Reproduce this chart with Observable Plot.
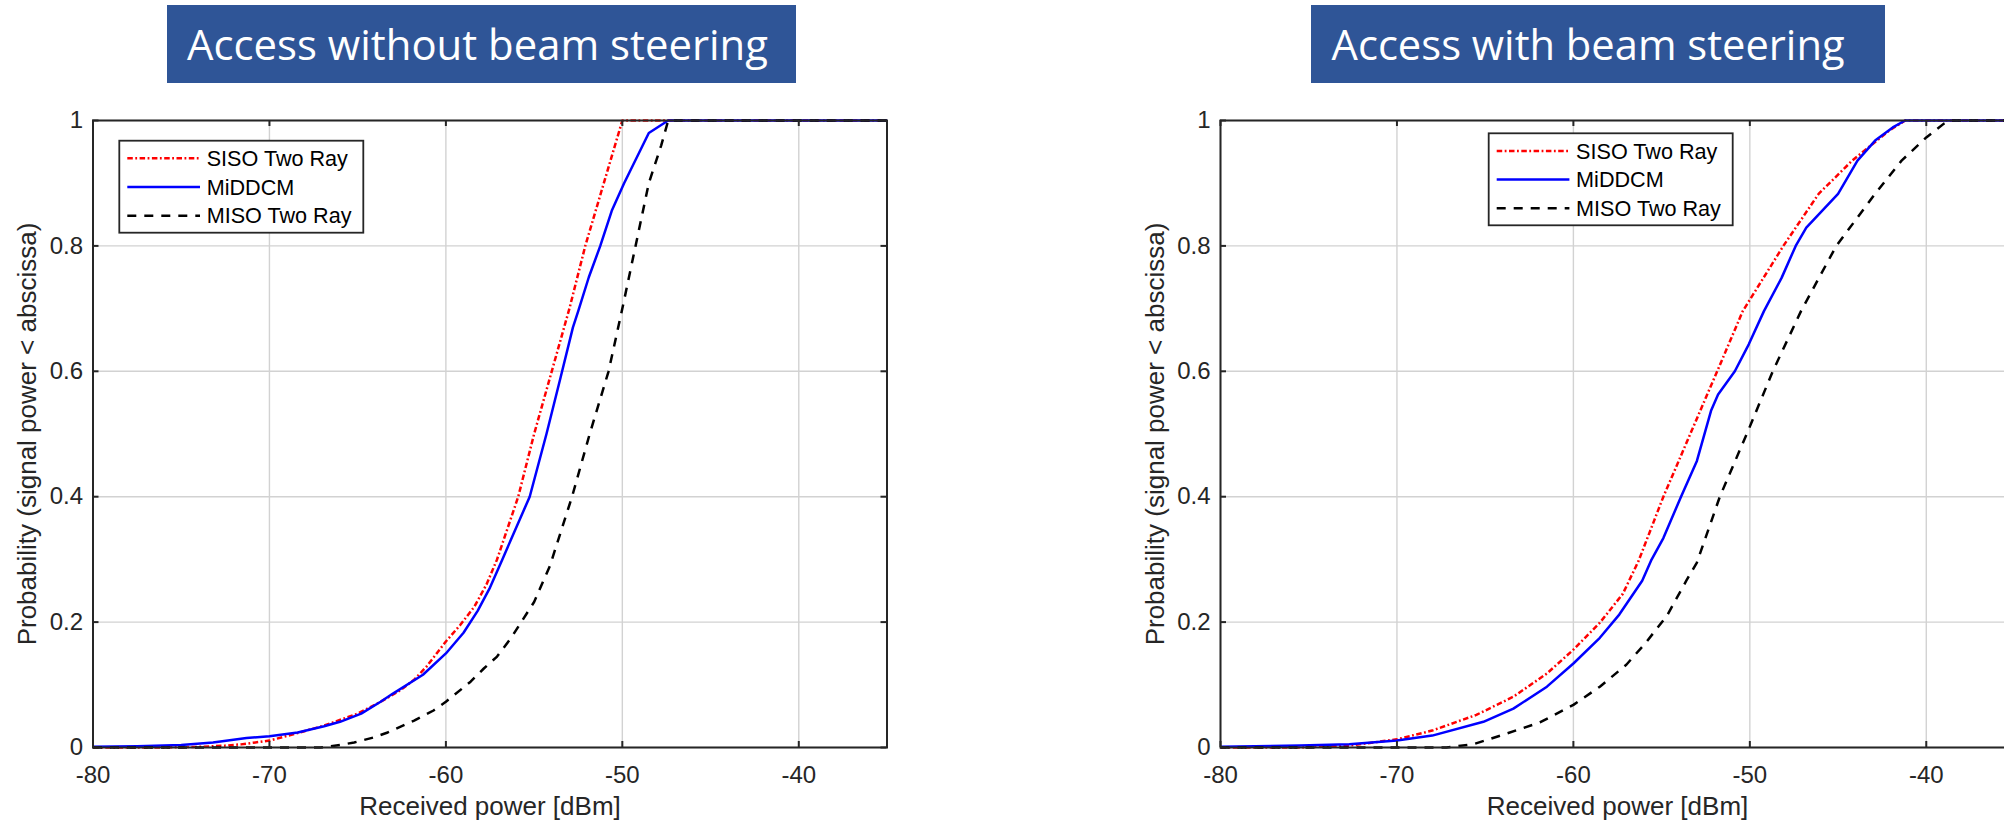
<!DOCTYPE html>
<html><head><meta charset="utf-8">
<script src="https://cdn.jsdelivr.net/npm/d3@7"></script>
<script src="https://cdn.jsdelivr.net/npm/@observablehq/plot@0.6"></script>
<style>
html,body{margin:0;padding:0;background:#fff;overflow:hidden;width:2004px;height:824px;}
.panel{position:absolute;top:0;}
</style></head><body>
<div id="left" class="panel" style="left:0;width:1000px;height:824px"></div>
<div id="right" class="panel" style="left:1000px;width:1020px;height:824px"></div>
<script>
// ---------- data ----------
const xTicks = [-80, -70, -60, -50, -40];
const yTicks = [0, 0.2, 0.4, 0.6, 0.8, 1];
const seriesNames = ["SISO Two Ray", "MiDDCM", "MISO Two Ray"];
const titles = ["Access without beam steering", "Access with beam steering"];
const xLabel = "Received power [dBm]";
const yLabel = "Probability (signal power < abscissa)";

// Left panel: access without beam steering  [power dBm, probability]
const leftSiso = [[-80,0],[-76,0],[-74,0.001],[-72.5,0.003],[-71.6,0.005],[-70,0.011],[-68.4,0.023],[-66.9,0.035],[-65,0.054],[-63.7,0.073],[-62.6,0.091],[-61.8,0.108],[-61.1,0.129],[-60,0.169],[-59.2,0.195],[-58.4,0.224],[-57.7,0.26],[-57.1,0.3],[-55.9,0.4],[-55,0.5],[-54,0.6],[-53,0.7],[-52.1,0.8],[-51.05,0.9],[-50,1],[-35,1]];
const leftMiddcm = [[-80,0.001],[-77.5,0.002],[-75,0.004],[-73.2,0.008],[-71.3,0.015],[-70,0.018],[-68.4,0.024],[-66.9,0.034],[-66,0.041],[-64.8,0.054],[-63.7,0.073],[-63,0.086],[-61.3,0.116],[-60,0.15],[-59,0.183],[-58.2,0.218],[-57.5,0.255],[-56.8,0.3],[-55.25,0.4],[-54.3,0.5],[-53.5,0.59],[-52.8,0.67],[-52.5,0.696],[-51.9,0.75],[-51.25,0.8],[-50.6,0.856],[-49.9,0.9],[-48.5,0.98],[-47.4,1],[-35,1]];
const leftMiso = [[-80,0],[-67.1,0],[-66,0.004],[-65.2,0.008],[-64.1,0.016],[-63.3,0.024],[-61.8,0.043],[-60.7,0.059],[-60,0.073],[-58.6,0.105],[-57.85,0.126],[-57.1,0.145],[-56.3,0.175],[-55.8,0.197],[-55,0.232],[-54.1,0.29],[-52.85,0.4],[-51.85,0.5],[-50.78,0.6],[-50,0.7],[-49.25,0.8],[-48.5,0.9],[-47.8,0.96],[-47.4,1],[-35,1]];

// Right panel: access with beam steering
const rightSiso = [[-80,0],[-75.5,0],[-72.7,0.003],[-70,0.013],[-68,0.027],[-65.5,0.052],[-63.4,0.081],[-61.5,0.118],[-60,0.156],[-58.5,0.199],[-57.2,0.245],[-56.3,0.298],[-54.9,0.4],[-53.3,0.505],[-51.85,0.6],[-50.4,0.696],[-48.1,0.8],[-46.1,0.883],[-44.2,0.936],[-42.1,0.984],[-41.2,1],[-35,1]];
const rightMiddcm = [[-80,0.001],[-75.5,0.003],[-72.7,0.005],[-70,0.011],[-68,0.019],[-65.1,0.041],[-63.4,0.062],[-61.5,0.097],[-60,0.134],[-58.5,0.175],[-57.4,0.212],[-56.1,0.266],[-55.6,0.298],[-54.9,0.334],[-53.9,0.4],[-53,0.457],[-52.2,0.537],[-51.8,0.563],[-50.85,0.6],[-50.06,0.643],[-49.2,0.696],[-48.2,0.749],[-47.4,0.8],[-46.8,0.829],[-45,0.883],[-43.9,0.936],[-42.9,0.968],[-41.9,0.989],[-41.2,1],[-35,1]];
const rightMiso = [[-80,0],[-67.2,0],[-65.7,0.005],[-63.8,0.022],[-61.9,0.04],[-60,0.068],[-58.5,0.097],[-57,0.132],[-55.9,0.167],[-54.7,0.21],[-53.6,0.266],[-53,0.295],[-51.7,0.4],[-50.1,0.505],[-48.7,0.6],[-47.1,0.696],[-45.1,0.8],[-42.9,0.883],[-41.4,0.936],[-40,0.973],[-39,0.995],[-38.6,1],[-35,1]];

// ---------- styles ----------
const seriesColors = ["#ff0000", "#0000ff", "#000000"];
const seriesDash = ["5.5,2.5,1.8,2.5", null, "9,8"];
const FONT = "'Liberation Sans', Arial, Helvetica, sans-serif";
const AX = "#262626";
const plotH = 627, plotW = 794;

function makeChart({series, marginLeft, width, legendX, legendY}) {
  const marginTop = 120, marginBottom = 77;
  const marginRight = width - marginLeft - plotW;
  const svg = Plot.plot({
    width, height: 824, marginLeft, marginRight, marginTop, marginBottom,
    x: {domain: [-80, -35]},
    y: {domain: [0, 1]},
    style: {background: "transparent", maxWidth: "none", overflow: "visible", fontFamily: FONT, fontSize: "24px", color: AX},
    marks: [
      Plot.gridX(xTicks, {stroke: "#d2d2d2", strokeOpacity: 1, strokeWidth: 1.4}),
      Plot.gridY(yTicks, {stroke: "#d2d2d2", strokeOpacity: 1, strokeWidth: 1.4}),
      ...series.map((data, i) => Plot.line(data, {
        x: d => d[0], y: d => d[1], stroke: seriesColors[i], strokeWidth: 2.5,
        strokeDasharray: seriesDash[i], strokeLinecap: "butt", strokeLinejoin: "round"
      })),
      Plot.frame({stroke: AX, strokeWidth: 2}),
      Plot.tickX(xTicks, {x: d => d, insetTop: plotH - 6, stroke: AX, strokeWidth: 2}),
      Plot.tickX(xTicks, {x: d => d, insetBottom: plotH - 6, stroke: AX, strokeWidth: 2}),
      Plot.tickY(yTicks, {y: d => d, insetRight: plotW - 6, stroke: AX, strokeWidth: 2}),
      Plot.tickY(yTicks, {y: d => d, insetLeft: plotW - 6, stroke: AX, strokeWidth: 2}),
      Plot.axisX(xTicks, {tickSize: 0, tickPadding: 18, tickFormat: d => String(d), label: null, fontSize: 24}),
      Plot.axisY(yTicks, {tickSize: 0, tickPadding: 10, tickFormat: d => String(d), label: null, fontSize: 24}),
      Plot.text([xLabel], {text: d => d, frameAnchor: "bottom", textAnchor: "middle", lineAnchor: "top", dy: 49, fontSize: 26, fill: AX}),
      Plot.text([yLabel], {text: d => d, frameAnchor: "left", textAnchor: "middle", lineAnchor: "middle", rotate: -90, dx: -65, fontSize: 26, fill: AX})
    ]
  });
  // legend
  const g = d3.select(svg).append("g").attr("text-anchor", "start");
  g.append("rect").attr("x", legendX).attr("y", legendY).attr("width", 244).attr("height", 92)
    .attr("fill", "#fff").attr("stroke", AX).attr("stroke-width", 1.8);
  seriesNames.forEach((n, i) => {
    const yy = legendY + 17.6 + i * 28.7;
    g.append("line").attr("x1", legendX + 8).attr("x2", legendX + 80.7).attr("y1", yy).attr("y2", yy)
      .attr("stroke", seriesColors[i]).attr("stroke-width", 2.5)
      .attr("stroke-dasharray", seriesDash[i]);
    g.append("text").attr("x", legendX + 87.4).attr("y", yy).attr("dy", "0.36em")
      .attr("text-anchor", "start")
      .attr("font-size", 21.6).attr("font-family", FONT).attr("fill", "#000").text(n);
  });
  return svg;
}

document.getElementById("left").appendChild(makeChart({
  series: [leftSiso, leftMiddcm, leftMiso], marginLeft: 92.5, width: 1000, legendX: 119.3, legendY: 140.7
}));
document.getElementById("right").appendChild(makeChart({
  series: [rightSiso, rightMiddcm, rightMiso], marginLeft: 220, width: 1020, legendX: 488.7, legendY: 133.3
}));

// titles
const ts = d3.select("body").append("svg").attr("width", 2004).attr("height", 90)
  .style("position", "absolute").style("left", "0px").style("top", "0px");
const boxes = [{x: 167, w: 629, tx: 187, tw: 581}, {x: 1311, w: 574, tx: 1331.6, tw: 513}];
boxes.forEach((b, i) => {
  ts.append("rect").attr("x", b.x).attr("y", 5).attr("width", b.w).attr("height", 78).attr("fill", "#2F5597");
  ts.append("text").attr("x", b.tx).attr("y", 60).attr("fill", "#fff")
    .attr("font-family", "'Open Sans', Lato, sans-serif").attr("font-size", 42)
    .attr("textLength", b.tw).attr("lengthAdjust", "spacingAndGlyphs").text(titles[i]);
});
</script></body></html>
